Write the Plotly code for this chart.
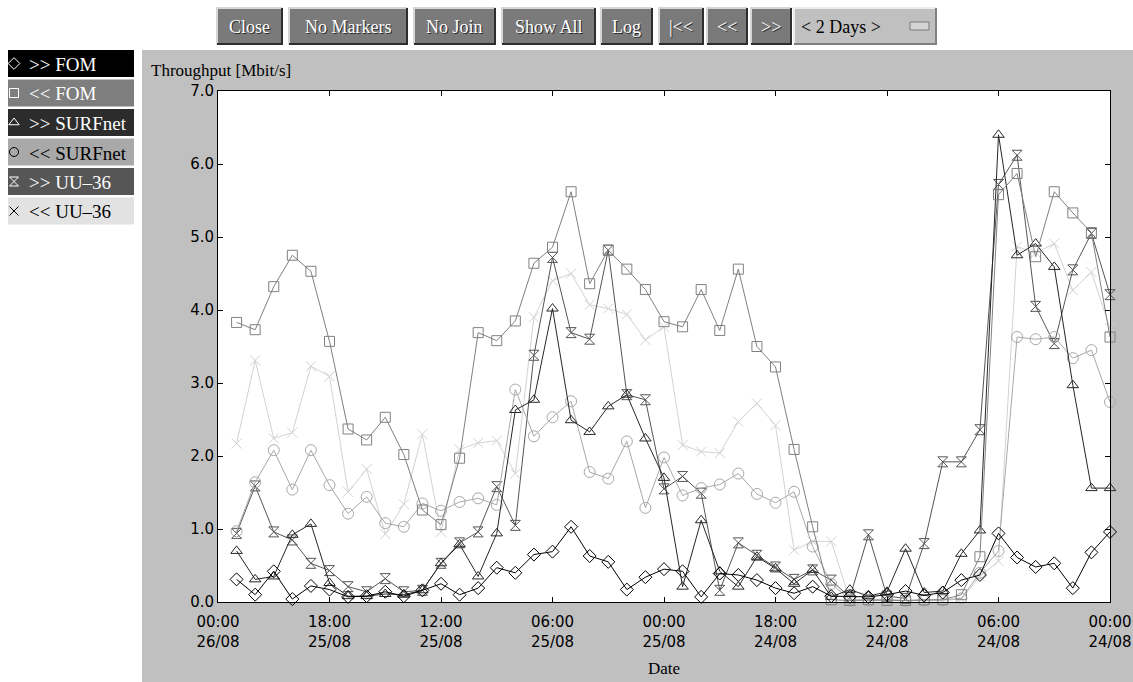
import pandas as pd
import plotly.graph_objects as go

# ---------------- data ----------------
times = list(pd.date_range(start="2000-08-24 00:00", end="2000-08-25 23:00", freq="h")[::-1])

fom_out = [0.31, 0.10, 0.42, 0.04, 0.22, 0.17, 0.07, 0.08, 0.14, 0.08, 0.16, 0.25, 0.10, 0.19,
           0.47, 0.40, 0.65, 0.69, 1.03, 0.63, 0.55, 0.17, 0.34, 0.45, 0.42, 0.07, 0.39, 0.37,
           0.30, 0.19, 0.12, 0.21, 0.08, 0.07, 0.07, 0.10, 0.15, 0.09, 0.13, 0.30, 0.37, 0.94,
           0.61, 0.48, 0.53, 0.19, 0.68, 0.96]
fom_in = [3.83, 3.73, 4.32, 4.75, 4.53, 3.57, 2.37, 2.22, 2.53, 2.02, 1.26, 1.06, 1.97, 3.69,
          3.58, 3.85, 4.64, 4.86, 5.62, 4.36, 4.82, 4.56, 4.28, 3.84, 3.77, 4.28, 3.72, 4.56,
          3.50, 3.22, 2.09, 1.03, 0.03, 0.02, 0.03, 0.02, 0.02, 0.03, 0.03, 0.10, 0.62, 5.58,
          5.87, 4.73, 5.62, 5.33, 5.06, 3.63]
surf_out = [0.70, 0.31, 0.35, 0.92, 1.07, 0.26, 0.08, 0.08, 0.11, 0.10, 0.16, 0.53, 0.79, 0.35,
            0.94, 2.63, 2.77, 4.02, 2.49, 2.33, 2.68, 2.84, 2.24, 1.70, 0.21, 1.12, 0.42, 0.21,
            0.62, 0.46, 0.25, 0.44, 0.07, 0.17, 0.08, 0.14, 0.73, 0.13, 0.15, 0.66, 0.98, 6.40,
            4.75, 4.91, 4.59, 2.97, 1.56, 1.56]
surf_in = [0.97, 1.64, 2.08, 1.54, 2.08, 1.60, 1.21, 1.44, 1.08, 1.03, 1.35, 1.25, 1.37, 1.42,
           1.33, 2.91, 2.27, 2.53, 2.75, 1.78, 1.69, 2.20, 1.29, 1.98, 1.46, 1.56, 1.61, 1.76,
           1.48, 1.36, 1.51, 0.76, 0.25, 0.03, 0.02, 0.03, 0.02, 0.02, 0.03, 0.05, 0.40, 0.70,
           3.63, 3.60, 3.63, 3.34, 3.45, 2.74]
uu_out = [0.94, 1.59, 0.96, 0.85, 0.53, 0.43, 0.21, 0.14, 0.32, 0.14, 0.16, 0.53, 0.81, 0.96,
          1.58, 1.05, 3.38, 4.72, 3.69, 3.60, 4.82, 2.84, 2.77, 1.55, 1.72, 1.49, 0.16, 0.81,
          0.64, 0.48, 0.31, 0.44, 0.30, 0.06, 0.92, 0.08, 0.05, 0.80, 1.92, 1.92, 2.36, 5.72,
          6.12, 4.05, 3.54, 4.55, 5.05, 4.21]
uu_in = [2.17, 3.31, 2.24, 2.32, 3.23, 3.09, 1.51, 1.82, 0.93, 1.34, 2.30, 0.96, 2.09, 2.18,
         2.21, 1.76, 3.90, 4.40, 4.50, 4.07, 4.02, 3.94, 3.59, 3.77, 2.15, 2.06, 2.04, 2.47,
         2.72, 2.42, 0.71, 0.83, 0.83, 0.03, 0.02, 0.02, 0.03, 0.02, 0.02, 0.04, 0.35, 0.56,
         4.87, 4.78, 4.91, 4.27, 4.52, 3.75]

series_names = [">> FOM", "<< FOM", ">> SURFnet", "<< SURFnet", ">> UU\u201336", "<< UU\u201336"]
tick_vals = ["2000-08-26 00:00", "2000-08-25 18:00", "2000-08-25 12:00", "2000-08-25 06:00",
             "2000-08-25 00:00", "2000-08-24 18:00", "2000-08-24 12:00", "2000-08-24 06:00",
             "2000-08-24 00:00"]
tick_text = ["00:00<br>26/08", "18:00<br>25/08", "12:00<br>25/08", "06:00<br>25/08",
             "00:00<br>25/08", "18:00<br>24/08", "12:00<br>24/08", "06:00<br>24/08",
             "00:00<br>24/08"]
button_labels = ["Close", "No Markers", "No Join", "Show All", "Log", "|<<", "<<", ">>"]

# ---------------- style ----------------
W, H = 1133, 682
SERIF = "Liberation Serif, Times New Roman, serif"
SANS = "DejaVu Sans, sans-serif"

line_colors = ["#000000", "#808080", "#262626", "#a8a8a8", "#555555", "#d2d2d2"]
symbols = ["diamond-open", "square-open", "triangle-up-open", "circle-open", "hourglass-open", "x-thin-open"]
sizes = [10, 10, 10, 11, 10, 10]
legend_bg = ["#000000", "#7e7e7e", "#2c2c2c", "#a9a9a9", "#565656", "#e2e2e2"]
legend_fg = ["#ffffff", "#ffffff", "#ffffff", "#000000", "#ffffff", "#000000"]


def px(x):
    return x / W


def py(y):
    return 1 - y / H


fig = go.Figure()

values = [fom_out, fom_in, surf_out, surf_in, uu_out, uu_in]
for i in reversed(range(6)):
    fig.add_trace(go.Scatter(
        x=times, y=values[i], name=series_names[i], mode="lines+markers",
        line=dict(color=line_colors[i], width=1),
        marker=dict(symbol=symbols[i], size=sizes[i], color=line_colors[i],
                    line=dict(color=line_colors[i], width=1)),
        cliponaxis=False, showlegend=False, xaxis="x", yaxis="y"))

shapes = []
annotations = []

# grey panel and white plot area
shapes.append(dict(type="rect", xref="paper", yref="paper", x0=px(142), x1=px(1133),
                   y0=py(682), y1=py(50), fillcolor="#c0c0c0", line=dict(width=0), layer="below"))
shapes.append(dict(type="rect", xref="paper", yref="paper", x0=px(218), x1=px(1110),
                   y0=py(602), y1=py(91), fillcolor="#ffffff", line=dict(width=0), layer="below"))

# buttons
button_x = [(217, 282), (289, 407), (414, 495), (502, 595), (601, 652), (659, 703), (707, 747), (751, 791)]
by0, by1 = 8, 44
for lab, (x0, x1) in zip(button_labels, button_x):
    shapes.append(dict(type="rect", xref="paper", yref="paper", x0=px(x0), x1=px(x1),
                       y0=py(by1), y1=py(by0), fillcolor="#7a7a7a", line=dict(width=0), layer="below"))
    shapes.append(dict(type="path", xref="paper", yref="paper",
                       path=f"M {px(x0)},{py(by1)} L {px(x0)},{py(by0)} L {px(x1)},{py(by0)}",
                       line=dict(color="#d6d6d6", width=2), layer="below"))
    shapes.append(dict(type="path", xref="paper", yref="paper",
                       path=f"M {px(x0)},{py(by1)} L {px(x1)},{py(by1)} L {px(x1)},{py(by0)}",
                       line=dict(color="#2e2e2e", width=2), layer="below"))
    annotations.append(dict(x=px((x0 + x1) / 2), y=py((by0 + by1) / 2 + 1), xref="paper", yref="paper",
                            text=lab.replace("<", "&lt;").replace(">", "&gt;"), showarrow=False,
                            xanchor="center", yanchor="middle",
                            font=dict(family=SERIF, size=18, color="#ffffff",
                                      shadow="1px 1px 0px #2a2a2a")))

# "< 2 Days >" selector
shapes.append(dict(type="rect", xref="paper", yref="paper", x0=px(794), x1=px(936),
                   y0=py(by1), y1=py(by0), fillcolor="#c0c0c0", line=dict(width=0), layer="below"))
shapes.append(dict(type="path", xref="paper", yref="paper",
                   path=f"M {px(794)},{py(by1)} L {px(794)},{py(by0)} L {px(936)},{py(by0)}",
                   line=dict(color="#ececec", width=2), layer="below"))
shapes.append(dict(type="path", xref="paper", yref="paper",
                   path=f"M {px(794)},{py(by1)} L {px(936)},{py(by1)} L {px(936)},{py(by0)}",
                   line=dict(color="#808080", width=2), layer="below"))
shapes.append(dict(type="rect", xref="paper", yref="paper", x0=px(910), x1=px(929),
                   y0=py(30), y1=py(22), fillcolor="#d4d4d4", line=dict(color="#7a7a7a", width=1),
                   layer="below"))
annotations.append(dict(x=px(799), y=py(27), xref="paper", yref="paper", text="&lt; 2 Days &gt;",
                        showarrow=False, xanchor="left", yanchor="middle",
                        font=dict(family=SERIF, size=18, color="#000000")))

# legend boxes
leg_x = [14] * 6
leg_y = []
for i in range(6):
    top = 50 + i * 29.5
    bot = top + 27
    leg_y.append((top + bot) / 2)
    shapes.append(dict(type="rect", xref="paper", yref="paper", x0=px(8), x1=px(134),
                       y0=py(bot), y1=py(top), fillcolor=legend_bg[i], line=dict(width=0),
                       layer="below"))
    annotations.append(dict(x=px(27), y=py((top + bot) / 2 + 1), xref="paper", yref="paper",
                            text=series_names[i].replace("<", "&lt;").replace(">", "&gt;"),
                            showarrow=False, xanchor="left", yanchor="middle",
                            font=dict(family=SERIF, size=19, color=legend_fg[i])))
    fig.add_trace(go.Scatter(x=[leg_x[i]], y=[leg_y[i]], mode="markers", xaxis="x2", yaxis="y2",
                             marker=dict(symbol=symbols[i], size=9, color=legend_fg[i],
                                         line=dict(color=legend_fg[i], width=1)),
                             cliponaxis=False, showlegend=False, hoverinfo="skip"))

# titles
annotations.append(dict(x=px(149), y=py(70), xref="paper", yref="paper", text="Throughput [Mbit/s]",
                        showarrow=False, xanchor="left", yanchor="middle",
                        font=dict(family=SERIF, size=17, color="#000000")))
annotations.append(dict(x=px(664), y=py(668), xref="paper", yref="paper", text="Date",
                        showarrow=False, xanchor="center", yanchor="middle",
                        font=dict(family=SERIF, size=17, color="#000000")))

fig.update_layout(
    width=W, height=H, autosize=False,
    margin=dict(l=0, r=0, t=0, b=0, pad=0, autoexpand=False),
    paper_bgcolor="#ffffff", plot_bgcolor="rgba(0,0,0,0)",
    showlegend=False, shapes=shapes, annotations=annotations,
    xaxis=dict(type="date", domain=[px(218), px(1110)], anchor="y", automargin=False,
               range=["2000-08-26 00:00", "2000-08-24 00:00"],
               tickmode="array", tickvals=tick_vals, ticktext=tick_text,
               ticks="inside", ticklen=5, tickcolor="#000000", tickwidth=1,
               showline=True, linecolor="#000000", linewidth=1, mirror="ticks",
               showgrid=False, zeroline=False, ticklabelstandoff=6,
               tickfont=dict(family=SANS, size=15, color="#000000")),
    yaxis=dict(domain=[py(602), py(91)], anchor="x", automargin=False, range=[0, 7], dtick=1, tick0=0,
               tickformat=".1f", ticks="inside", ticklen=5, tickcolor="#000000", tickwidth=1,
               showline=True, linecolor="#000000", linewidth=1, mirror="ticks",
               showgrid=False, zeroline=False,
               tickfont=dict(family=SANS, size=15, color="#000000")),
    xaxis2=dict(domain=[0, 1], range=[0, W], visible=False, anchor="y2", fixedrange=True,
                automargin=False),
    yaxis2=dict(domain=[0, 1], range=[H, 0], visible=False, anchor="x2", fixedrange=True,
                automargin=False),
)

fig.write_html("out.html", config={"displayModeBar": False, "responsive": False},
               post_script="document.body.style.margin='0';document.body.style.overflow='hidden';")
